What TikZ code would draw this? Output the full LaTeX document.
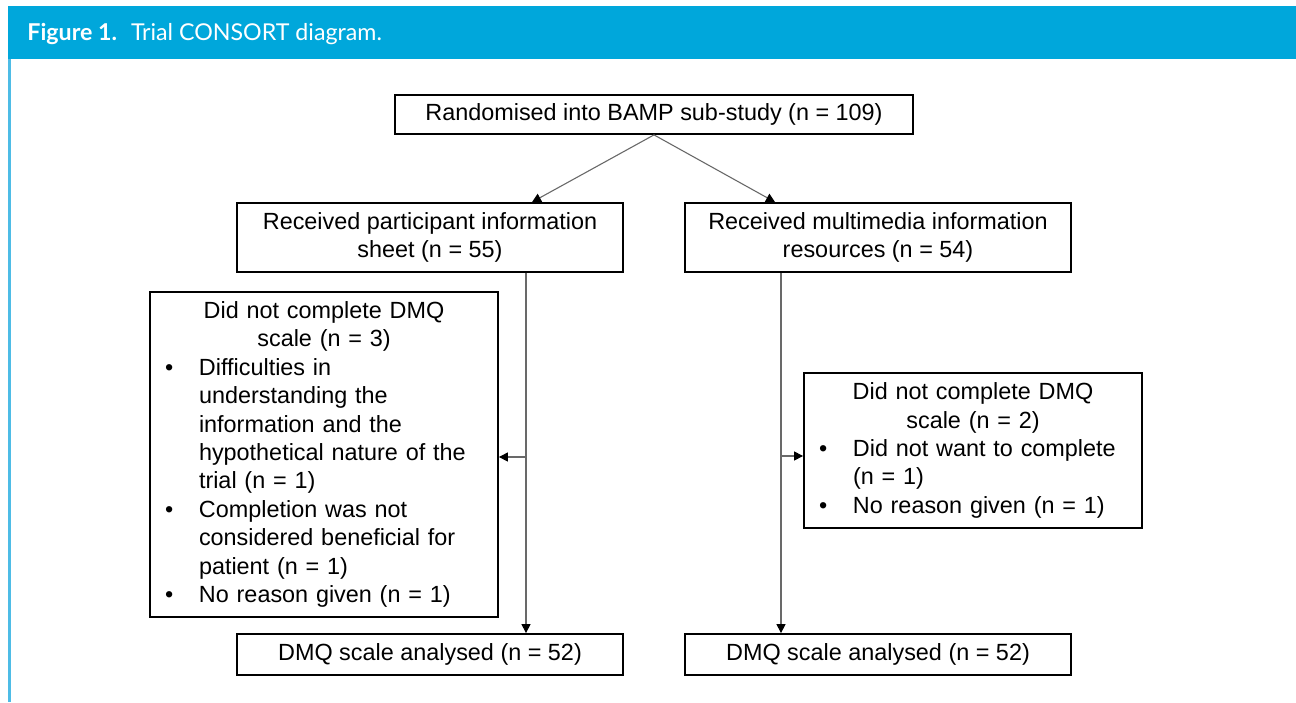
\documentclass[tikz,border=0pt]{standalone}
\usepackage{fontspec}
\setmainfont{Liberation Sans}
\newfontfamily\headfont{Lato}
\usetikzlibrary{arrows.meta,positioning,calc}

\definecolor{bannerblue}{RGB}{0,167,219}
\definecolor{rulerblue}{RGB}{78,188,230}
\definecolor{linkgray}{RGB}{105,105,105}

% bullet line with hanging indent
\newcommand{\bulitem}[1]{\par\noindent\hangindent=17pt\hangafter=1\makebox[17pt][l]{\textbullet}#1}

\begin{document}
\begin{tikzpicture}[x=0.5pt, y=-0.5pt,
    font=\fontsize{11.7}{14.2}\selectfont,
    box/.style={draw, line width=0.9pt, rectangle, align=center, inner sep=2pt},
    exbox/.style={draw, line width=0.9pt, rectangle, align=left, inner xsep=7.5pt, inner ysep=2pt},
    link/.style={draw=linkgray, line width=0.55pt, -{Triangle[length=4.5pt, width=4.5pt, black]}}]
    \useasboundingbox (0,0) rectangle (1296,702);

    % Figure banner
    \fill[bannerblue] (8,6) rectangle (1296,59);
    \fill[rulerblue] (8,59) rectangle (11,702);
    \node[anchor=base west, text=white, inner sep=0pt, font=\headfont\fontsize{11.6}{14}\selectfont]
        (caption) at (27,40) {\textbf{Figure 1.}\hspace{7pt}Trial CONSORT diagram.};

    % Randomisation
    \node[box, minimum width=259pt, minimum height=19.5pt] (rand) at (654,114.5)
        {Randomised into BAMP sub-study (n = 109)};

    % Allocation arms
    \node[box, minimum width=193pt, minimum height=34.5pt] (pis) at (430,237.5)
        {Received participant information\\sheet (n = 55)};
    \node[box, minimum width=193pt, minimum height=34.5pt] (mmr) at (878,237.5)
        {Received multimedia information\\resources (n = 54)};

    % Exclusions
    \node[exbox, text width=159pt, minimum height=162.5pt] (exL) at (324,454.5)
        {{\centering Did not complete DMQ\\scale (n = 3)\par}
         \bulitem{Difficulties in\newline understanding the\newline information and the\newline hypothetical nature of the\newline trial (n = 1)}
         \bulitem{Completion was not\newline considered beneficial for\newline patient (n = 1)}
         \bulitem{No reason given (n = 1)}};
    \node[exbox, text width=154pt, minimum height=77.5pt] (exR) at (973,450.5)
        {{\centering Did not complete DMQ\\scale (n = 2)\par}
         \bulitem{Did not want to complete\newline (n = 1)}
         \bulitem{No reason given (n = 1)}};

    % Analysis
    \node[box, minimum width=193pt, minimum height=20.5pt] (anL) at (430,654.5)
        {DMQ scale analysed (n = 52)};
    \node[box, minimum width=193pt, minimum height=20.5pt] (anR) at (878,654.5)
        {DMQ scale analysed (n = 52)};

    % Connectors
    \draw[link] (rand.south) -- ([xshift=51pt]pis.north);
    \draw[link] (rand.south) -- ([xshift=-51.5pt]mmr.north);
    \coordinate (lstem) at ([xshift=48pt]pis.south);
    \coordinate (rstem) at ([xshift=-48.5pt]mmr.south);
    \coordinate (exLin) at ([yshift=-1.25pt]exL.east);
    \coordinate (exRin) at ([yshift=-2.75pt]exR.west);
    \draw[link] (lstem) -- (lstem |- anL.north);
    \draw[link] (rstem) -- (rstem |- anR.north);
    \draw[link] (lstem |- exLin) -- (exLin);
    \draw[link] (rstem |- exRin) -- (exRin);
\end{tikzpicture}
\end{document}
